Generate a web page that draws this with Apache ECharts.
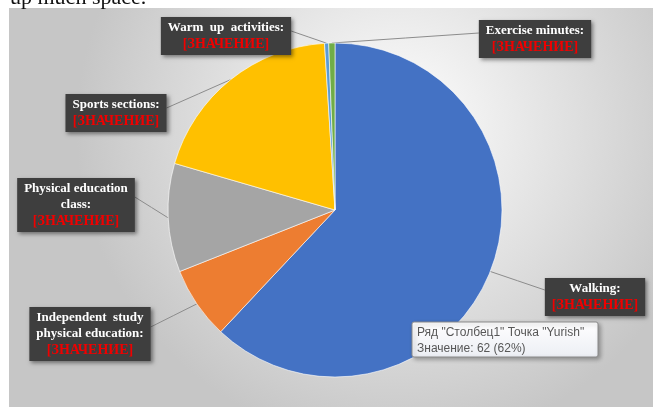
<!DOCTYPE html>
<html>
<head>
<meta charset="utf-8">
<script src="https://cdn.jsdelivr.net/npm/echarts@6/dist/echarts.min.js"></script>
<style>
  html, body { margin: 0; padding: 0; background: #fff; }
  #chart { width: 653px; height: 407px; }
</style>
</head>
<body>
<div id="chart"></div>
<script>
// data
const categories = ['Walking', 'Independent study physical education', 'Physical education class', 'Sports sections', 'Warm up activities', 'Exercise minutes']
const values = [62, 7, 10.5, 19.5, 0.4, 0.6]
const labelTexts = ['Walking:', 'Independent  study\nphysical education:', 'Physical education\nclass:', 'Sports sections:', 'Warm  up  activities:', 'Exercise minutes:']
const valuePlaceholder = '[ЗНАЧЕНИЕ]'
const seriesName = 'Столбец1'
const tipPoint = 'Yurish'

const colors = ['#4472C4', '#ED7D31', '#A5A5A5', '#FFC000', '#5B9BD5', '#70AD47']
// label box: centre x, top, leader attach offset, side the leader enters
const boxes = [
  [595, 278, 12, 'left'],
  [90, 307, 20, 'right'],
  [76, 178, 19, 'right'],
  [116, 94, 14, 'right'],
  [226, 17, 14, 'right'],
  [535, 20, 13, 'left']
]

const chart = echarts.init(document.getElementById('chart'))
const total = values.reduce((a, b) => a + b, 0)

const option = {
  animation: false,
  color: colors,
  graphic: [
    {
      type: 'rect',
      z: -10,
      shape: { x: 9, y: 8, width: 644, height: 399 },
      style: {
        fill: new echarts.graphic.RadialGradient(0.6, 0.3, 0.8, [
          { offset: 0, color: '#ffffff' },
          { offset: 1, color: '#c6c6c6' }
        ])
      },
      silent: true
    },
    {
      type: 'text',
      x: 10,
      y: -13,
      style: { text: 'up much space.', font: '22px "Liberation Serif"', fill: '#111', verticalAlign: 'top' },
      silent: true
    },
    {
      type: 'rect',
      z: 100,
      shape: { x: 412, y: 322, width: 186, height: 35, r: 2 },
      style: {
        fill: new echarts.graphic.LinearGradient(0, 0, 0, 1, [
          { offset: 0, color: '#ffffff' },
          { offset: 1, color: '#eceef4' }
        ]),
        stroke: '#8a8a8a',
        lineWidth: 1,
        shadowBlur: 4,
        shadowOffsetX: 2,
        shadowOffsetY: 2,
        shadowColor: 'rgba(0,0,0,0.3)'
      }
    },
    {
      type: 'text',
      z: 101,
      x: 417,
      y: 325,
      style: {
        text: 'Ряд "' + seriesName + '" Точка "' + tipPoint + '"\nЗначение: ' + values[0] + ' (' + Math.round(values[0] / total * 100) + '%)',
        font: '12px "Liberation Sans"',
        lineHeight: 16,
        fill: '#575757'
      }
    }
  ],
  series: [
    {
      type: 'pie',
      center: [335, 210],
      radius: 167,
      startAngle: 90,
      clockwise: true,
      avoidLabelOverlap: false,
      emphasis: { disabled: true },
      itemStyle: { borderColor: '#ffffff', borderWidth: 0.6 },
      data: categories.map((name, i) => ({ name, value: values[i] })),
      label: {
        show: true,
        position: 'outside',
        formatter: p => '{t|' + labelTexts[p.dataIndex] + '}\n{v|' + valuePlaceholder + '}',
        backgroundColor: '#3e3e3e',
        padding: [3, 7, 2, 7],
        shadowBlur: 4,
        shadowOffsetX: 2,
        shadowOffsetY: 2,
        shadowColor: 'rgba(0,0,0,0.45)',
        rich: {
          t: {
            color: '#ffffff',
            fontFamily: 'Liberation Serif',
            fontWeight: 'bold',
            fontSize: 13,
            lineHeight: 16,
            align: 'center'
          },
          v: {
            color: '#f00000',
            fontFamily: 'Liberation Serif',
            fontWeight: 'bold',
            fontSize: 14,
            lineHeight: 17,
            align: 'center'
          }
        }
      },
      labelLine: {
        show: true,
        length: 10,
        length2: 10,
        lineStyle: { color: '#8c8c8c', width: 1 }
      },
      labelLayout: function (params) {
        const b = boxes[params.dataIndex]
        const w = params.labelRect.width
        const ax = b[3] === 'left' ? b[0] - w / 2 : b[0] + w / 2
        const ay = b[1] + b[2]
        const p0 = params.labelLinePoints ? params.labelLinePoints[0] : [ax, ay]
        return {
          x: b[0],
          y: b[1],
          align: 'center',
          verticalAlign: 'top',
          labelLinePoints: [p0, [(p0[0] + ax) / 2, (p0[1] + ay) / 2], [ax, ay]]
        }
      }
    }
  ]
}
chart.setOption(option)
</script>
</body>
</html>
